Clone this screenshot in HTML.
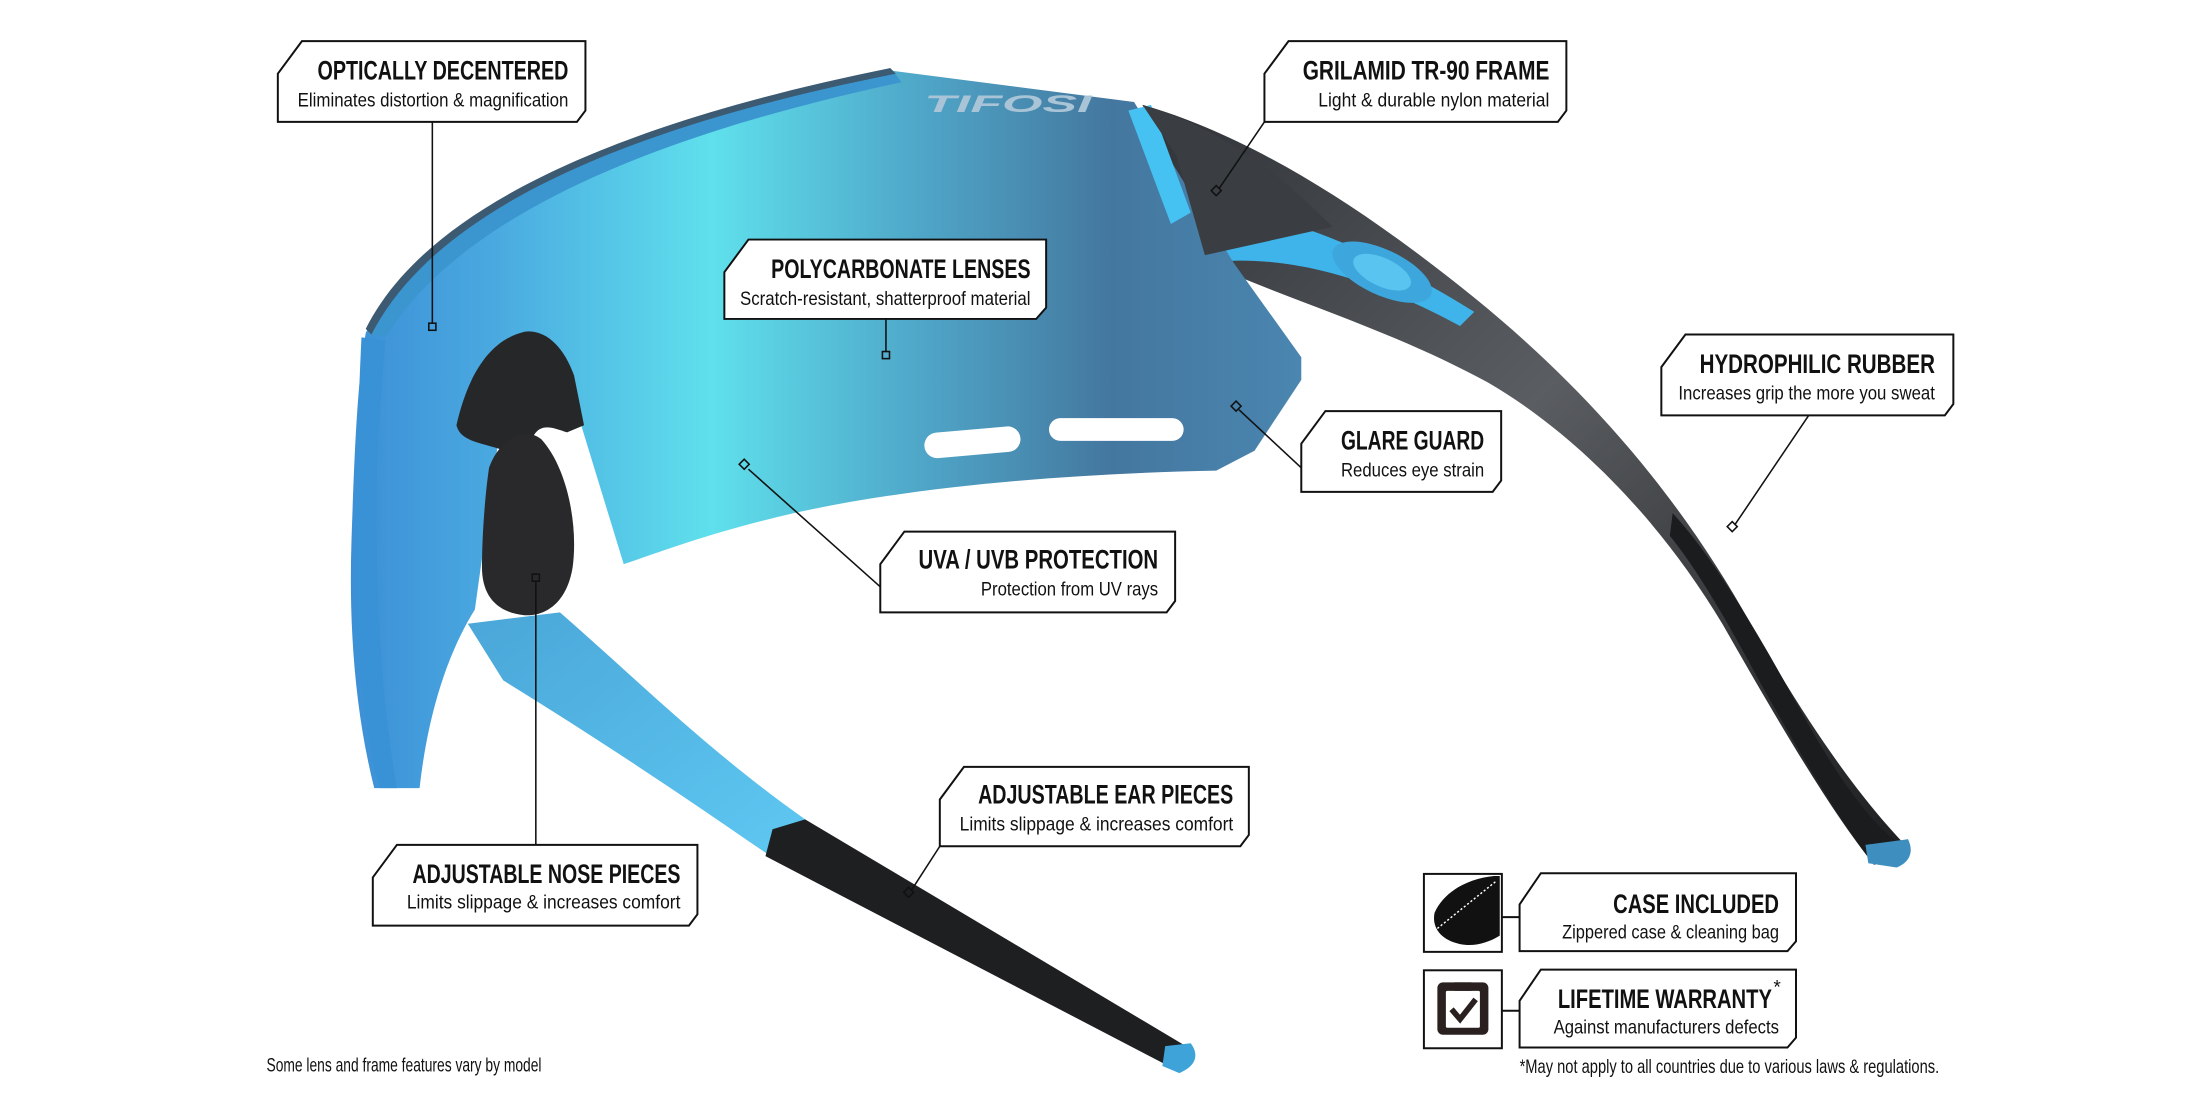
<!DOCTYPE html>
<html><head><meta charset="utf-8"><style>
html,body{margin:0;padding:0;background:#fff;}
svg{display:block}
.t{font-family:"Liberation Sans Narrow","Liberation Sans",sans-serif;font-weight:bold;font-size:19px;fill:#111}
.s{font-family:"Liberation Sans Narrow","Liberation Sans",sans-serif;font-size:13.5px;fill:#111}
.box{fill:#fff;stroke:#111;stroke-width:1.4}
.ld{stroke:#111;stroke-width:1.1;fill:none}
.mk{fill:none;stroke:#111;stroke-width:1.1}
</style></head><body>
<svg width="2200" height="1100" viewBox="0 0 1552 776" xmlns="http://www.w3.org/2000/svg">
<defs>
<linearGradient id="lens" x1="0" y1="0" x2="1" y2="0">
<stop offset="0" stop-color="#3c8fd6"/><stop offset="0.15" stop-color="#4aa9e0"/>
<stop offset="0.38" stop-color="#5fe0ec"/><stop offset="0.6" stop-color="#4fa6c8"/>
<stop offset="0.8" stop-color="#44779f"/><stop offset="1" stop-color="#4a86b0"/></linearGradient>
<linearGradient id="arm" x1="0" y1="0" x2="1" y2="1">
<stop offset="0" stop-color="#2f3236"/><stop offset="0.45" stop-color="#5a5d61"/><stop offset="0.7" stop-color="#3a3c3f"/><stop offset="1" stop-color="#1d1e20"/></linearGradient>
<linearGradient id="larm" x1="0" y1="0" x2="1" y2="1">
<stop offset="0" stop-color="#4aa6d8"/><stop offset="1" stop-color="#5ec8f2"/></linearGradient>
</defs>

<!-- right temple arm -->
<path d="M806,74 C880,95 960,145 1040,210 C1120,275 1185,350 1235,440 C1280,520 1318,570 1348,600 L1322,610 C1290,570 1255,510 1215,440 C1170,365 1110,305 1050,270 C980,232 910,212 850,185 Z" fill="url(#arm)"/>
<path d="M1180,362 C1215,400 1250,465 1278,515 C1305,562 1328,590 1348,600 L1322,610 C1295,575 1268,528 1242,482 C1222,445 1200,405 1178,378 Z" fill="#1b1c1e"/>
<path d="M1316,596 L1346,592 C1350,600 1348,608 1338,612 L1318,609 Z" fill="#3e8fbf"/>
<path d="M836,150 C880,140 960,170 1040,220 L1030,230 C960,192 900,178 845,186 Z" fill="#3fb4ea"/>
<ellipse cx="975" cy="192" rx="38" ry="16" transform="rotate(25 975 192)" fill="#3da6dc"/>
<ellipse cx="975" cy="192" rx="22" ry="10" transform="rotate(25 975 192)" fill="#58c4ef"/>

<!-- left temple arm -->
<path d="M330,440 L395,432 C450,480 500,530 568,578 L545,605 C480,560 420,520 355,480 Z" fill="url(#larm)"/>
<path d="M545,585 L568,578 L840,740 L832,756 L540,604 Z" fill="#1e1f21"/>
<path d="M822,738 L840,736 C846,744 844,752 832,757 L820,752 Z" fill="#3da3d8"/>

<!-- lens -->
<path d="M258,235 C300,150 430,90 630,50 L800,72 L830,120 L870,185 L918,252 L918,268 L885,318 L858,332 C760,334 650,342 560,362 C500,376 470,388 440,398 L410,300 L360,250 L335,430 C310,470 300,520 296,556 L264,556 C250,500 246,440 248,380 C250,320 252,270 258,235 Z" fill="url(#lens)"/>
<path d="M258,235 C300,150 430,90 630,50 L636,58 C440,100 320,160 272,238 Z" fill="#3b96d0"/>
<path d="M258,232 C300,148 430,88 628,48 L632,52 C430,92 305,152 262,236 Z" fill="#3c5a72"/>
<path d="M255,238 C252,300 250,380 252,450 C256,500 262,540 268,556 L280,556 C270,500 264,420 266,330 C268,290 270,260 272,240 Z" fill="#3a92d6"/>
<path d="M796,78 L812,74 L840,150 L826,158 Z" fill="#45c1f2"/>
<path d="M806,74 C860,90 900,120 940,160 L850,180 L830,110 Z" fill="#3a3d41"/>
<text x="652" y="79" font-family="Liberation Sans" font-weight="bold" font-style="italic" font-size="17" fill="#a9c4d6" textLength="118" lengthAdjust="spacingAndGlyphs">TIFOSI</text>
<rect x="652" y="303" width="68" height="18" rx="9" fill="#fff" transform="rotate(-5 686 312)"/>
<rect x="740" y="295" width="95" height="16" rx="8" fill="#fff"/>

<!-- nose pad -->
<path d="M322,300 C330,265 345,240 370,234 C385,232 398,245 405,265 L412,300 L400,305 C385,300 375,295 370,330 L356,318 C340,312 325,312 322,300 Z" fill="#262728"/>
<path d="M345,330 C352,310 370,300 382,310 C400,330 408,370 404,400 C400,425 385,435 370,434 C350,432 340,420 340,400 C340,380 342,350 345,330 Z" fill="#29292b"/>

<!-- callouts -->
<g>
<path class="box" d="M213,29 L413,29 L413,78 L407,86 L196,86 L196,52 Z"/>
<text class="t" x="401" y="56" text-anchor="end" textLength="177" lengthAdjust="spacingAndGlyphs">OPTICALLY DECENTERED</text>
<text class="s" x="401" y="75" text-anchor="end" textLength="191" lengthAdjust="spacingAndGlyphs">Eliminates distortion &amp; magnification</text>
<line class="ld" x1="305" y1="86" x2="305" y2="228"/><rect class="mk" x="302.5" y="228" width="5" height="5"/>
</g>
<g>
<path class="box" d="M528,169 L738,169 L738,217 L731,225 L511,225 L511,192 Z"/>
<text class="t" x="727" y="196" text-anchor="end" textLength="183" lengthAdjust="spacingAndGlyphs">POLYCARBONATE LENSES</text>
<text class="s" x="727" y="215" text-anchor="end" textLength="205" lengthAdjust="spacingAndGlyphs">Scratch-resistant, shatterproof material</text>
<line class="ld" x1="625" y1="225" x2="625" y2="248"/><rect class="mk" x="622.5" y="248" width="5" height="5"/>
</g>
<g>
<path class="box" d="M909,29 L1105,29 L1105,78 L1099,86 L892,86 L892,52 Z"/>
<text class="t" x="1093" y="56" text-anchor="end" textLength="174" lengthAdjust="spacingAndGlyphs">GRILAMID TR-90 FRAME</text>
<text class="s" x="1093" y="75" text-anchor="end" textLength="163" lengthAdjust="spacingAndGlyphs">Light &amp; durable nylon material</text>
<polyline class="ld" points="892,86 860,133"/><rect class="mk" x="855.5" y="132" width="5" height="5" transform="rotate(45 858 134.5)"/>
</g>
<g>
<path class="box" d="M1189,236 L1378,236 L1378,285 L1372,293 L1172,293 L1172,259 Z"/>
<text class="t" x="1365" y="263" text-anchor="end" textLength="166" lengthAdjust="spacingAndGlyphs">HYDROPHILIC RUBBER</text>
<text class="s" x="1365" y="282" text-anchor="end" textLength="181" lengthAdjust="spacingAndGlyphs">Increases grip the more you sweat</text>
<line class="ld" x1="1276" y1="293" x2="1224" y2="370"/><rect class="mk" x="1219.5" y="369" width="5" height="5" transform="rotate(45 1222 371.5)"/>
</g>
<g>
<path class="box" d="M935,290 L1059,290 L1059,339 L1053,347 L918,347 L918,313 Z"/>
<text class="t" x="1047" y="317" text-anchor="end" textLength="101" lengthAdjust="spacingAndGlyphs">GLARE GUARD</text>
<text class="s" x="1047" y="336" text-anchor="end" textLength="101" lengthAdjust="spacingAndGlyphs">Reduces eye strain</text>
<line class="ld" x1="918" y1="330" x2="874" y2="289"/><rect class="mk" x="869.5" y="284" width="5" height="5" transform="rotate(45 872 286.5)"/>
</g>
<g>
<path class="box" d="M638,375 L829,375 L829,424 L823,432 L621,432 L621,398 Z"/>
<text class="t" x="817" y="401" text-anchor="end" textLength="169" lengthAdjust="spacingAndGlyphs">UVA / UVB PROTECTION</text>
<text class="s" x="817" y="420" text-anchor="end" textLength="125" lengthAdjust="spacingAndGlyphs">Protection from UV rays</text>
<line class="ld" x1="621" y1="414" x2="528" y2="331"/><rect class="mk" x="522.5" y="325" width="5" height="5" transform="rotate(45 525 327.5)"/>
</g>
<g>
<path class="box" d="M680,541 L881,541 L881,589 L875,597 L663,597 L663,564 Z"/>
<text class="t" x="870" y="567" text-anchor="end" textLength="180" lengthAdjust="spacingAndGlyphs">ADJUSTABLE EAR PIECES</text>
<text class="s" x="870" y="586" text-anchor="end" textLength="193" lengthAdjust="spacingAndGlyphs">Limits slippage &amp; increases comfort</text>
<line class="ld" x1="663" y1="597" x2="643" y2="628"/><rect class="mk" x="638.5" y="627" width="5" height="5" transform="rotate(45 641 629.5)"/>
</g>
<g>
<line class="ld" x1="378" y1="410" x2="378" y2="596"/><rect class="mk" x="375.5" y="405" width="5" height="5"/>
<path class="box" d="M280,596 L492,596 L492,645 L486,653 L263,653 L263,619 Z"/>
<text class="t" x="480" y="623" text-anchor="end" textLength="189" lengthAdjust="spacingAndGlyphs">ADJUSTABLE NOSE PIECES</text>
<text class="s" x="480" y="641" text-anchor="end" textLength="193" lengthAdjust="spacingAndGlyphs">Limits slippage &amp; increases comfort</text>
</g>

<!-- case / warranty -->
<rect x="1004.5" y="616.5" width="55" height="55" fill="#fff" stroke="#111" stroke-width="1.4"/>
<path d="M1054,618 L1058,618 L1058,660 C1050,665 1040,668 1030,666 C1016,663 1010,654 1012,644 C1018,630 1034,620 1054,618 Z" fill="#111"/>
<path d="M1014,655 L1055,622" stroke="#fff" stroke-width="1" stroke-dasharray="1.5 1.5"/>
<line x1="1059" y1="647" x2="1072" y2="647" stroke="#111" stroke-width="1.4"/>
<path class="box" d="M1087,616 L1267,616 L1267,664 L1261,671 L1072,671 L1072,638 Z"/>
<text class="t" x="1255" y="644" text-anchor="end" textLength="117" lengthAdjust="spacingAndGlyphs">CASE INCLUDED</text>
<text class="s" x="1255" y="662" text-anchor="end" textLength="153" lengthAdjust="spacingAndGlyphs">Zippered case &amp; cleaning bag</text>

<rect x="1004.5" y="684.5" width="55" height="55" fill="#fff" stroke="#111" stroke-width="1.4"/>
<rect x="1014" y="693" width="36" height="37" rx="4" fill="#2a2020"/>
<rect x="1020" y="699" width="24" height="26" rx="1" fill="#fff"/>
<rect x="1026" y="693" width="12" height="6" fill="#2a2020"/>
<path d="M1024,712 L1030,719 L1041,705" stroke="#2a2020" stroke-width="4" fill="none"/>
<line x1="1059" y1="713" x2="1072" y2="713" stroke="#111" stroke-width="1.4"/>
<path class="box" d="M1087,684 L1267,684 L1267,732 L1261,739 L1072,739 L1072,706 Z"/>
<text class="t" x="1250" y="711" text-anchor="end" textLength="151" lengthAdjust="spacingAndGlyphs">LIFETIME WARRANTY</text>
<text class="s" x="1251" y="701" font-size="10">*</text>
<text class="s" x="1255" y="729" text-anchor="end" textLength="159" lengthAdjust="spacingAndGlyphs">Against manufacturers defects</text>

<text class="s" x="1072" y="757" font-size="12.5" textLength="296" lengthAdjust="spacingAndGlyphs">*May not apply to all countries due to various laws &amp; regulations.</text>
<text class="s" x="188" y="756" font-size="12" textLength="194" lengthAdjust="spacingAndGlyphs">Some lens and frame features vary by model</text>
</svg>
</body></html>
